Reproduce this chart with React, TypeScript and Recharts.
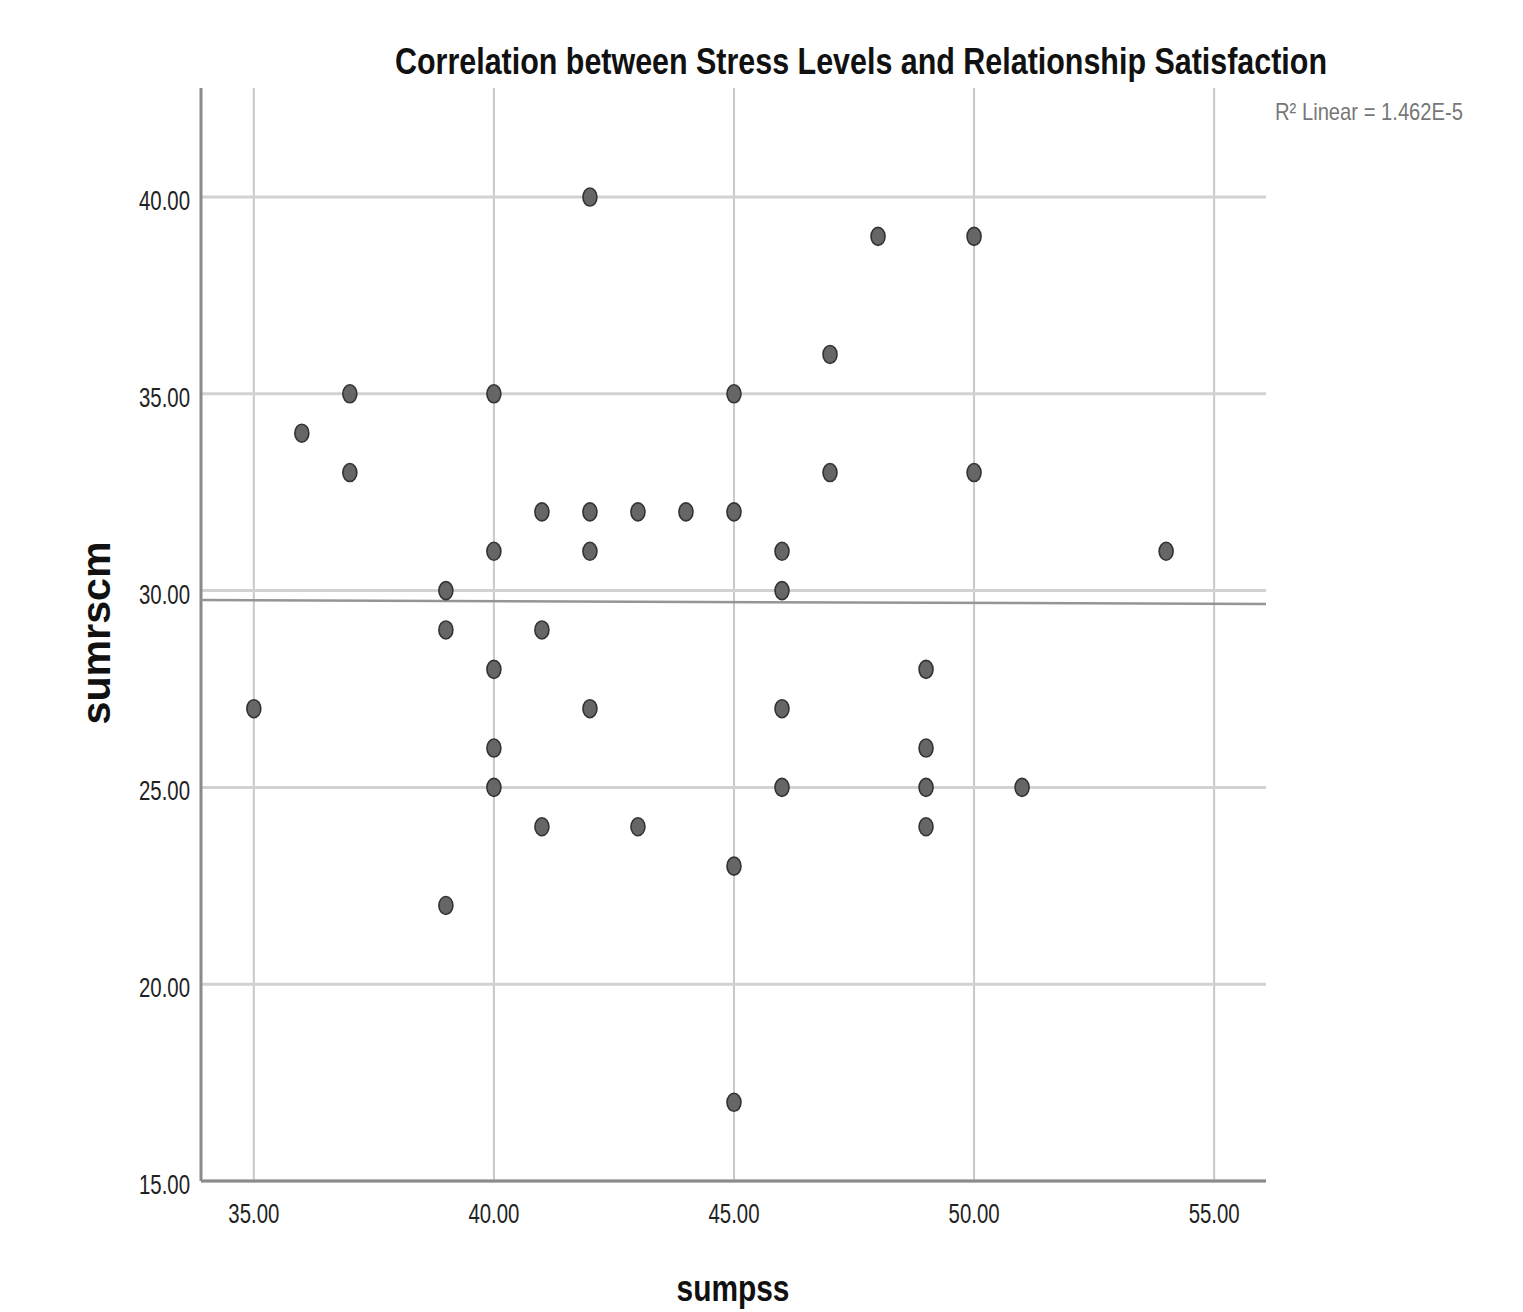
import React from "react";
import { ScatterChart, Scatter, XAxis, YAxis, ReferenceLine } from "recharts";

const stressX = [35, 36, 37, 37, 39, 39, 39, 40, 40, 40, 40, 40, 41, 41, 41, 42, 42, 42, 42, 43, 43, 44, 45, 45, 45, 45, 46, 46, 46, 46, 47, 47, 48, 49, 49, 49, 49, 50, 50, 51, 54];
const satisfactionY = [27, 34, 35, 33, 30, 29, 22, 35, 31, 28, 26, 25, 32, 29, 24, 40, 32, 31, 27, 32, 24, 32, 35, 32, 23, 17, 31, 30, 27, 25, 36, 33, 39, 28, 26, 25, 24, 39, 33, 25, 31];
const xTicks = [35, 40, 45, 50, 55];
const yTicks = [15, 20, 25, 30, 35, 40];
const xDomain = [33.9, 56.08];
const yDomain = [15, 42.77];
const fitLineX = [33.9, 56.08];
const fitLineY = [29.76, 29.66];

const points = stressX.map((x, i) => ({ x, y: satisfactionY[i] }));

const FONT = "'Liberation Sans', Arial, sans-serif";

const XTick = (props: any) => {
  const { x, payload } = props;
  return (
    <text x={x} y={1223} textAnchor="middle" fontFamily={FONT} fontSize={28} fill="#222" textLength={51} lengthAdjust="spacingAndGlyphs">
      {Number(payload.value).toFixed(2)}
    </text>
  );
};

const YTick = (props: any) => {
  const { y, payload } = props;
  return (
    <text x={190} y={y + 13} textAnchor="end" fontFamily={FONT} fontSize={28} fill="#222" textLength={51} lengthAdjust="spacingAndGlyphs">
      {Number(payload.value).toFixed(2)}
    </text>
  );
};

const Dot = (props: any) => {
  const { cx, cy } = props;
  return <ellipse cx={cx} cy={cy} rx={7} ry={9} fill="#666" stroke="#333" strokeWidth={1.6} />;
};

export default function App() {
  return (
    <div style={{ position: "absolute", left: 0, top: 0, width: 1523, height: 1312, background: "#fff" }}>
      <ScatterChart width={1523} height={1312} margin={{ top: 88, right: 257, bottom: 71, left: 101 }}>
        <XAxis
          type="number"
          dataKey="x"
          domain={xDomain}
          ticks={xTicks}
          allowDataOverflow
          height={60}
          tickLine={false}
          axisLine={false}
          tick={<XTick />}
          interval={0}
        />
        <YAxis
          type="number"
          dataKey="y"
          domain={yDomain}
          ticks={yTicks}
          allowDataOverflow
          width={100}
          tickLine={false}
          axisLine={false}
          tick={<YTick />}
          interval={0}
        />
        {xTicks.map((t) => (
          <ReferenceLine key={"vx" + t} x={t} stroke="#c8c8c8" strokeWidth={2} />
        ))}
        {yTicks.map((t) => (
          <ReferenceLine key={"hy" + t} y={t} stroke="#d2d2d2" strokeWidth={3} />
        ))}
        <ReferenceLine x={xDomain[0]} stroke="#8a8a8a" strokeWidth={3} />
        <ReferenceLine y={yDomain[0]} stroke="#8a8a8a" strokeWidth={3} />
        <ReferenceLine
          segment={[
            { x: fitLineX[0], y: fitLineY[0] },
            { x: fitLineX[1], y: fitLineY[1] },
          ]}
          stroke="#959595"
          strokeWidth={2.5}
          ifOverflow="visible"
        />
        <Scatter data={points} shape={<Dot />} isAnimationActive={false} />
      </ScatterChart>
      <svg width={1523} height={1312} style={{ position: "absolute", left: 0, top: 0, pointerEvents: "none" }}>
        <text x={861} y={74} textAnchor="middle" fontFamily={FONT} fontWeight="bold" fontSize={36} fill="#111" textLength={932} lengthAdjust="spacingAndGlyphs">
          Correlation between Stress Levels and Relationship Satisfaction
        </text>
        <text x={1275} y={120} fontFamily={FONT} fontSize={24} fill="#777" textLength={188} lengthAdjust="spacingAndGlyphs">
          R² Linear = 1.462E-5
        </text>
        <text x={733} y={1301} textAnchor="middle" fontFamily={FONT} fontWeight="bold" fontSize={36} fill="#111" textLength={113} lengthAdjust="spacingAndGlyphs">
          sumpss
        </text>
        <text x={0} y={0} transform="translate(110,633) rotate(-90)" textAnchor="middle" fontFamily={FONT} fontWeight="bold" fontSize={40} fill="#111" textLength={183} lengthAdjust="spacingAndGlyphs">
          sumrscm
        </text>
      </svg>
    </div>
  );
}
